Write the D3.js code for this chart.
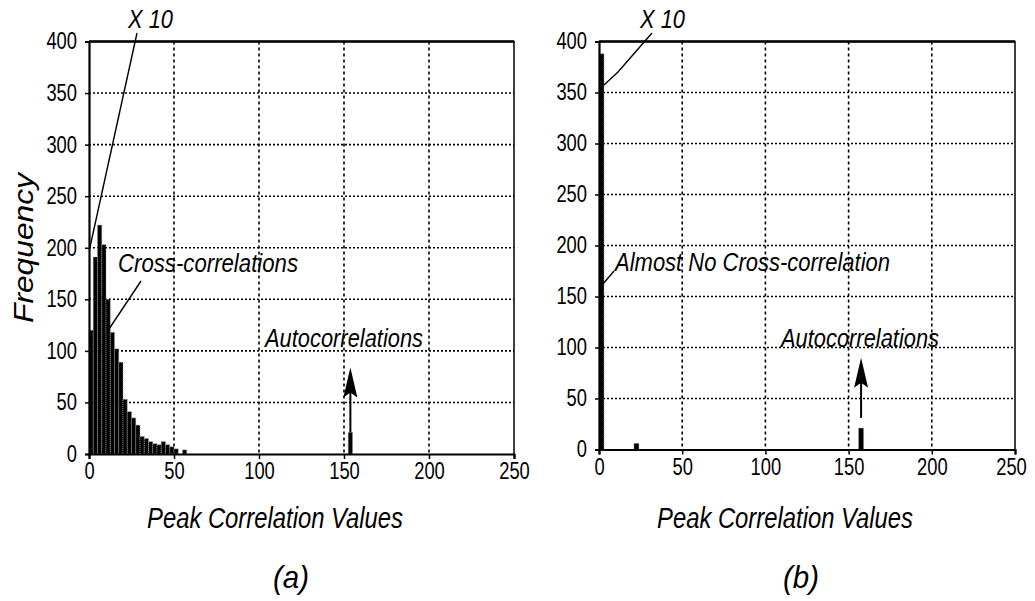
<!DOCTYPE html>
<html>
<head>
<meta charset="utf-8">
<script src="https://cdn.jsdelivr.net/npm/d3@7"></script>
<style>
  body { margin: 0; background: #fff; }
  svg { display: block; }
</style>
</head>
<body>
<svg id="chart"></svg>
<script>
const xTicks = [0, 50, 100, 150, 200, 250];
const yTicks = [0, 50, 100, 150, 200, 250, 300, 350, 400];

// panel (a): histogram, bins 2.5 wide
const leftBins = [0, 2.5, 5, 7.5, 10, 12.5, 15, 17.5, 20, 22.5, 25, 27.5, 30, 32.5, 35, 37.5, 40, 42.5, 45, 47.5, 50, 52.5, 55, 152.5];
const leftFreq = [120, 191, 222, 203, 150, 118, 102, 89, 53, 41, 35, 28, 17, 15, 12, 10, 9, 12, 9, 7, 5, 0, 4, 21];

// panel (b): bins 3 wide
const rightBins = [0, 21, 156];
const rightFreq = [388, 6, 21];

const width = 1035;
const height = 601;
const narrow = "'Liberation Sans Narrow', 'Arial Narrow', 'Liberation Sans', sans-serif";

const svg = d3.select("#chart")
  .attr("width", width)
  .attr("height", height);

function drawPanel(opt) {
  const x = d3.scaleLinear().domain([0, 250]).range([opt.left, opt.right]);
  const y = d3.scaleLinear().domain([0, 400]).range([opt.bottom, opt.top]);
  const g = svg.append("g");

  // grid
  g.selectAll(".hgrid")
    .data(yTicks.filter(d => d > 0 && d < 400))
    .enter().append("line")
    .attr("x1", opt.left).attr("x2", opt.right)
    .attr("y1", d => y(d)).attr("y2", d => y(d))
    .attr("stroke", "#000").attr("stroke-width", 1.6)
    .attr("stroke-dasharray", "2,2");
  g.selectAll(".vgrid")
    .data(xTicks.filter(d => d > 0 && d < 250))
    .enter().append("line")
    .attr("y1", opt.top).attr("y2", opt.bottom)
    .attr("x1", d => x(d)).attr("x2", d => x(d))
    .attr("stroke", "#000").attr("stroke-width", 1.6)
    .attr("stroke-dasharray", "3,3");

  // bars
  g.selectAll(".bar")
    .data(opt.bins.map((b, i) => ({ x0: b, f: opt.freq[i] })))
    .enter().append("rect")
    .attr("x", d => x(d.x0))
    .attr("y", d => y(d.f))
    .attr("width", x(opt.binW) - x(0))
    .attr("height", d => y(0) - y(d.f))
    .attr("fill", "#000")
    .attr("stroke", "#9a9a9a")
    .attr("stroke-width", 0.8)
    .attr("stroke-dasharray", "1,1");

  // frame
  g.append("path")
    .attr("d", `M${opt.left},${opt.top}H${opt.right}V${opt.bottom}`)
    .attr("fill", "none").attr("stroke", "#000").attr("stroke-width", 1.5);
  g.append("path")
    .attr("d", `M${opt.left},${opt.top}H${opt.right}`)
    .attr("fill", "none").attr("stroke", "#000").attr("stroke-width", 2.5);

  // axes
  const yAxis = g.append("g")
    .attr("transform", `translate(${opt.left},0)`)
    .call(d3.axisLeft(y).tickValues(yTicks).tickSize(4).tickPadding(8));
  const xAxis = g.append("g")
    .attr("transform", `translate(0,${opt.bottom})`)
    .call(d3.axisBottom(x).tickValues(xTicks).tickSize(5).tickPadding(4));
  [xAxis, yAxis].forEach(a => {
    a.select(".domain").attr("stroke-width", 2.2);
    a.selectAll(".tick line").attr("stroke-width", 1.5);
    a.selectAll("text")
      .style("font-family", narrow)
      .style("font-size", "23px")
      .attr("fill", "#000")
      .attr("textLength", d => String(d).length * 10.2)
      .attr("lengthAdjust", "spacingAndGlyphs");
  });
  // keep the last x label inside the page
  xAxis.selectAll("text").filter(d => d === 250).attr("dx", opt.lastDx || 0);

  // arrow above the autocorrelation bar
  const ax = x(opt.arrow.at);
  const tip = y(opt.arrow.tip);
  g.append("line")
    .attr("x1", ax).attr("x2", ax)
    .attr("y1", y(opt.arrow.from)).attr("y2", tip + 24)
    .attr("stroke", "#000").attr("stroke-width", 2);
  g.append("path")
    .attr("d", `M${ax},${tip}L${ax + 7},${tip + 30}L${ax},${tip + 25}L${ax - 7},${tip + 30}Z`)
    .attr("fill", "#000");

  // axis title
  g.append("text")
    .attr("x", opt.left + 186)
    .attr("y", 528)
    .attr("text-anchor", "middle")
    .attr("textLength", 256)
    .attr("lengthAdjust", "spacingAndGlyphs")
    .style("font-family", narrow)
    .style("font-style", "italic")
    .style("font-size", "30px")
    .text("Peak Correlation Values");

  g.append("text")
    .attr("x", opt.left + 202)
    .attr("y", 588)
    .attr("text-anchor", "middle")
    .attr("textLength", 36)
    .attr("lengthAdjust", "spacingAndGlyphs")
    .style("font-family", narrow)
    .style("font-style", "italic")
    .style("font-size", "32px")
    .text(opt.tag);

  return { x, y, g };
}

function label(g, text, x0, yb, len, size) {
  g.append("text")
    .attr("x", x0).attr("y", yb)
    .attr("textLength", len)
    .attr("lengthAdjust", "spacingAndGlyphs")
    .style("font-family", narrow)
    .style("font-style", "italic")
    .style("font-size", size + "px")
    .text(text);
}

function pointer(g, pts) {
  g.append("path")
    .attr("d", d3.line()(pts))
    .attr("fill", "none")
    .attr("stroke", "#000")
    .attr("stroke-width", 1.4);
}

// panel (a)
const a = drawPanel({
  left: 89, right: 514, top: 41.5, bottom: 454,
  bins: leftBins, freq: leftFreq, binW: 2.5,
  arrow: { at: 153.75, from: 21, tip: 84 },
  tag: "(a)"
});
label(a.g, "X 10", 128, 28, 45, 26);
pointer(a.g, [[137, 33], [90, 247]]);
label(a.g, "Cross-correlations", 118, 272, 180, 26);
pointer(a.g, [[141, 281], [109, 329]]);
label(a.g, "Autocorrelations", 265, 347, 158, 26);

a.g.append("text")
  .attr("transform", "translate(33,248) rotate(-90)")
  .attr("text-anchor", "middle")
  .attr("textLength", 150)
  .attr("lengthAdjust", "spacingAndGlyphs")
  .style("font-family", narrow)
  .style("font-style", "italic")
  .style("font-size", "28px")
  .text("Frequency");

// panel (b)
const b = drawPanel({
  left: 599, right: 1015, top: 41.5, bottom: 449.5,
  bins: rightBins, freq: rightFreq, binW: 3,
  arrow: { at: 157.5, from: 31, tip: 90 },
  tag: "(b)",
  lastDx: -4
});
label(b.g, "X 10", 640, 28, 45, 26);
pointer(b.g, [[652, 33], [618, 72], [604, 85]]);
label(b.g, "Almost No Cross-correlation", 615, 271, 275, 26);
pointer(b.g, [[614, 271], [603, 284]]);
label(b.g, "Autocorrelations", 781, 347, 158, 26);
</script>
</body>
</html>
